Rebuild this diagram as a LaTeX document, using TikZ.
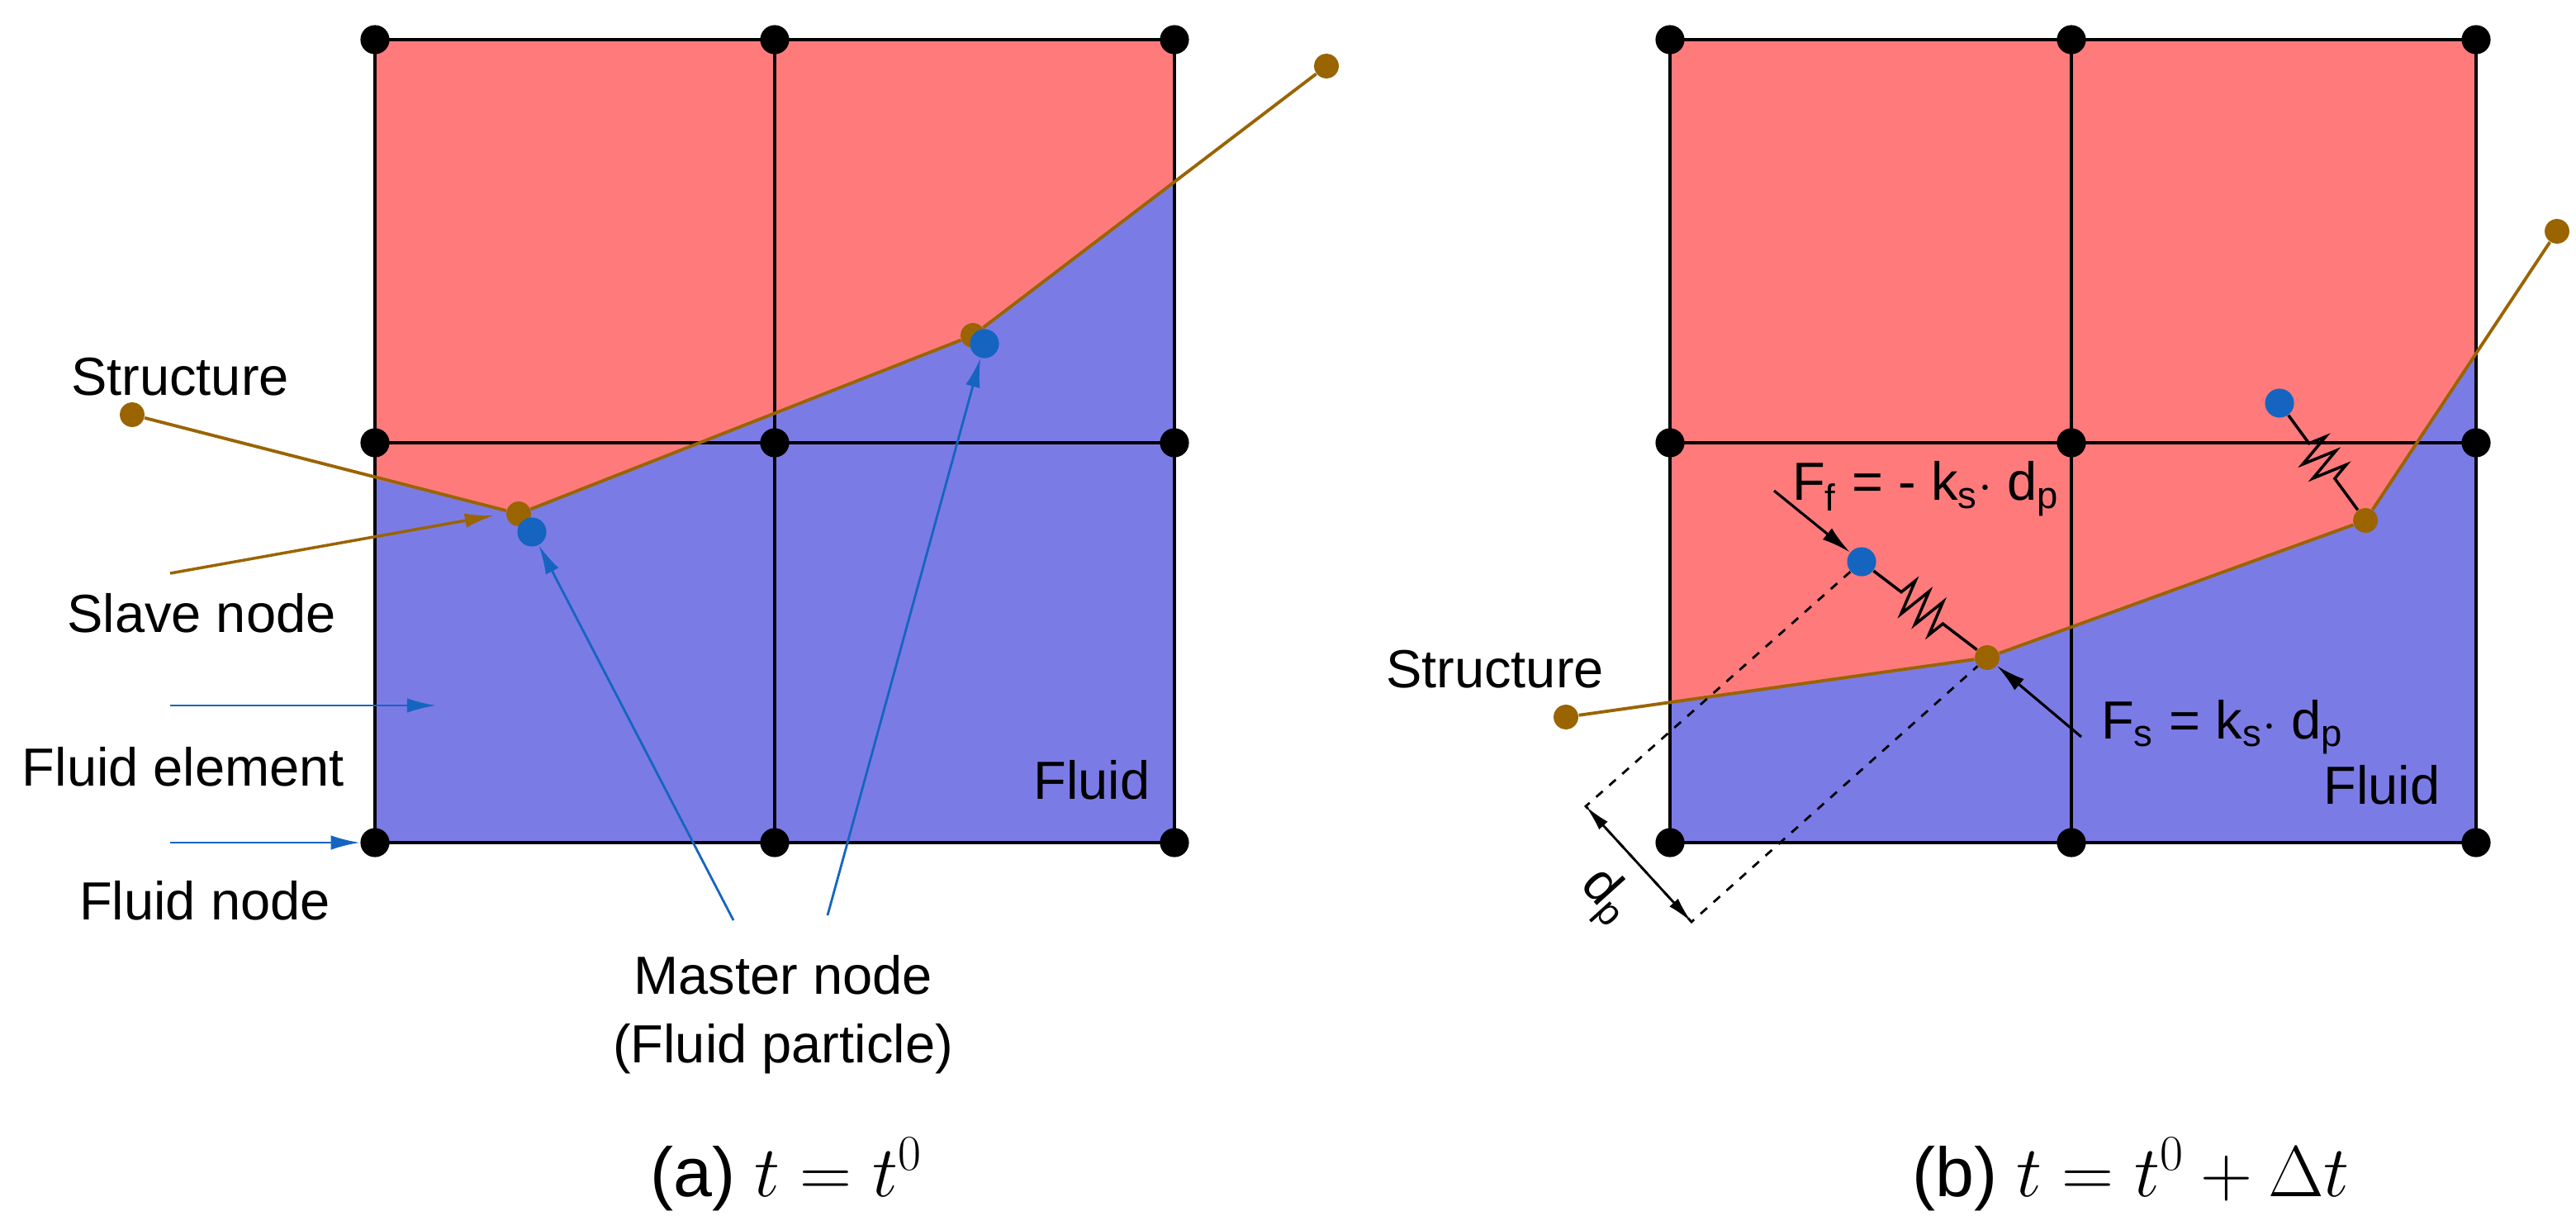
\documentclass[tikz,border=0pt]{standalone}
\usepackage{fontspec}
\setmainfont{Liberation Sans}
\usetikzlibrary{decorations.pathmorphing,arrows.meta}
\definecolor{redf}{HTML}{FF7B7B}
\definecolor{bluef}{HTML}{7B7BE6}
\definecolor{brn}{HTML}{9A6400}
\definecolor{bdot}{HTML}{1565C0}
\begin{document}
\begin{tikzpicture}[x=0.02cm,y=-0.02cm,
 gnode/.style={circle,fill=black,inner sep=0pt,minimum size=10pt},
 snode/.style={circle,fill=brn,inner sep=0pt,minimum size=8.5pt},
 pnode/.style={circle,fill=bdot,inner sep=0pt,minimum size=10pt},
 lbl/.style={font=\fontsize{18.5}{22}\selectfont,inner sep=1pt},
 grid/.style={line width=1.1pt},
 sline/.style={brn,line width=1.1pt},
 barrow/.style={bdot,line width=0.8pt,-{Latex[length=10pt,width=5pt]}},
 karrow/.style={black,line width=0.9pt,-{Latex[length=10pt,width=5pt]}},
 spring/.style={line width=1pt,decorate,decoration={zigzag,amplitude=6pt,segment length=6pt,pre length=12pt,post length=12pt}}]
\useasboundingbox (0,0) rectangle (1559.5,736);
% ---------- (a)
\fill[redf] (227,24) rectangle (711,510);
\fill[bluef] (227,290) -- (314,311) -- (589,203) -- (711,110) -- (711,510) -- (227,510) -- cycle;
\draw[grid] (227,24) rectangle (711,510) (469,24) -- (469,510) (227,268) -- (711,268);
\foreach \x/\n in {227/a,469/b,711/c}{\foreach \y/\m in {24/1,268/2,510/3}{\node[gnode] (L\n\m) at (\x,\y) {};}}
\node[snode] (ls0) at (80,251) {};
\node[snode] (ls1) at (314,311) {};
\node[snode] (ls2) at (589,203) {};
\node[snode] (ls3) at (803,40) {};
\draw[sline] (ls0) -- (ls1) -- (ls2) -- (ls3);
\node[pnode] (lp1) at (322,322) {};
\node[pnode] (lp2) at (596,208) {};
\node[lbl] (tstr) at (109,228) {Structure};
\node[lbl] (tslave) at (122,371) {Slave node};
\coordinate (cs) at (103,347);
\draw[sline,line width=1pt,-{Latex[length=10pt,width=5pt]}] (cs) -- (299,312);
\coordinate (ce1) at (103,427); \coordinate (ce2) at (264,427);
\draw[barrow] (ce1) -- (ce2);
\node[lbl] (telem) at (111,464) {Fluid element};
\coordinate (cn1) at (103,510);
\draw[barrow] (cn1) -- (La3);
\node[lbl] (tnode) at (124,545) {Fluid node};
\node[lbl] (tmaster) at (474,590) {Master node};
\node[lbl] (tpart) at (474,635) {(Fluid particle)};
\coordinate (cm1) at (444,557); \coordinate (cm2) at (501,554);
\draw[barrow] (cm1) -- (lp1);
\draw[barrow] (cm2) -- (lp2);
\node[lbl] (tfl) at (661,472) {Fluid};
\node[lbl,font=\fontsize{24}{28}\selectfont] (capa) at (476,711) {(a) $t = t^0$};
% ---------- (b)
\fill[redf] (1011,24) rectangle (1499,510);
\fill[bluef] (1011,426) -- (1203,398) -- (1432,315) -- (1499,214) -- (1499,510) -- (1011,510) -- cycle;
\draw[grid] (1011,24) rectangle (1499,510) (1254,24) -- (1254,510) (1011,268) -- (1499,268);
\foreach \x/\n in {1011/a,1254/b,1499/c}{\foreach \y/\m in {24/1,268/2,510/3}{\node[gnode] (R\n\m) at (\x,\y) {};}}
\node[snode] (rs0) at (948,434) {};
\node[snode] (rs1) at (1203,398) {};
\node[snode] (rs2) at (1432,315) {};
\node[snode] (rs3) at (1548,140) {};
\draw[sline] (rs0) -- (rs1) -- (rs2) -- (rs3);
\node[pnode] (rp1) at (1127,340) {};
\node[pnode] (rp2) at (1380,244) {};
\draw[spring] (rp1) -- (rs1);
\draw[spring] (rp2) -- (rs2);
\coordinate (d1) at (960,488); \coordinate (d2) at (1024,558);
\draw[dashed,line width=0.8pt] (rp1) -- (d1) -- (d2) -- (rs1);
\draw[line width=0.8pt,{Latex[length=9pt,width=4pt]}-{Latex[length=9pt,width=4pt]}] (d1) -- (d2);
\node[lbl,rotate=-48] (tdp) at (972,543) {d$_\mathrm{p}$};
\node[lbl,anchor=base west] (tff) at (1083,303) {F$_\mathrm{f}$ = - k$_\mathrm{s}$$\cdot$ d$_\mathrm{p}$};
\coordinate (cf) at (1074,297);
\draw[karrow] (cf) -- (rp1);
\node[lbl,anchor=base west] (tfs) at (1270,447) {F$_\mathrm{s}$ = k$_\mathrm{s}$$\cdot$ d$_\mathrm{p}$};
\coordinate (cfs) at (1260,446);
\draw[karrow] (cfs) -- (rs1);
\node[lbl] (tstr2) at (905,405) {Structure};
\node[lbl] (tfl2) at (1442,475) {Fluid};
\node[lbl,font=\fontsize{24}{28}\selectfont] (capb) at (1290,711) {(b) $t = t^0 + \Delta t$};
\end{tikzpicture}
\end{document}
